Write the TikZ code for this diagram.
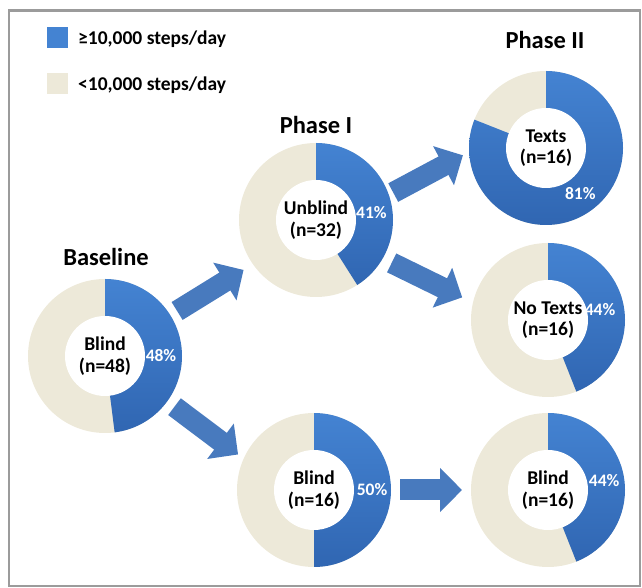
\documentclass[tikz,border=0pt]{standalone}
\usepackage{fontspec}
\setmainfont{Carlito}
\usetikzlibrary{arrows.meta}

\definecolor{stepblue}{RGB}{68,131,210}
\definecolor{stepbluedark}{RGB}{48,102,178}
\definecolor{stepbeige}{RGB}{237,233,217}
\definecolor{arrowblue}{RGB}{72,122,190}
\definecolor{framegray}{RGB}{155,155,155}

\tikzset{
  donut/.style={circle, minimum size=154pt, inner sep=0pt, outer sep=0pt,
    align=center, font=\fontsize{19.5}{21.5}\selectfont\bfseries,
    path picture={
      \fill[stepbeige] (path picture bounding box.center) circle[radius=77pt];
      \shade[top color=stepblue, bottom color=stepbluedark]
        (path picture bounding box.center) -- ++(90:77pt)
        arc[start angle=90, delta angle=-#1, radius=77pt] -- cycle;
      \fill[white] (path picture bounding box.center) circle[radius=40pt];
    }},
  pct/.style={text=white, inner sep=0pt, font=\fontsize{17.5}{19}\selectfont\bfseries},
  phase/.style={inner sep=0pt, font=\fontsize{24.5}{28}\selectfont\bfseries},
  keybox/.style={minimum size=21pt, inner sep=0pt},
  keytext/.style={anchor=base west, inner sep=0pt, font=\fontsize{19.5}{22}\selectfont\bfseries},
  blockarrow/.style={draw=arrowblue, line width=21pt, -{Triangle[length=22pt, width=43pt]}}
}

\begin{document}
\begin{tikzpicture}[x=1pt, y=1pt]

        \useasboundingbox (0,0) rectangle (642,588);
        \draw[framegray, line width=2.5pt] (9,577.5) rectangle (640,2);

        % legend
        \node[keybox, fill=stepblue]  (key-hi) at (57.5,550.5) {};
        \node[keybox, fill=stepbeige] (key-lo) at (57.5,504) {};
        \node[keytext] (key-hi-t) at (78,543.7) {≥10,000 steps/day};
        \node[keytext] (key-lo-t) at (78,497.3) {<10,000 steps/day};

        \node[phase] (base-t) at (106,331) {Baseline};
        \node[phase] (unbl-t) at (316,463) {Phase I};
        \node[phase] (txt-t)  at (545,548) {Phase II};

        \node[donut=172.8] (base)  at (105,232) {Blind\\(n=48)};
        \node[donut=147.6] (unbl)  at (316,368) {Unblind\\(n=32)};
        \node[donut=291.6] (txt)   at (546,440) {Texts\\(n=16)};
        \node[donut=158.4] (notxt) at (548,268) {No Texts\\(n=16)};
        \node[donut=180]   (blnd)  at (314,98)  {Blind\\(n=16)};
        \node[donut=158.4] (blnd2) at (548,98)  {Blind\\(n=16)};

        \path (base.center)  ++(0:56)   node[pct] (base-p)  {48\%};
        \path (unbl.center)  ++(8:56)   node[pct] (unbl-p)  {41\%};
        \path (txt.center)   ++(-53:57) node[pct] (txt-p)   {81\%};
        \path (notxt.center) ++(11:53)  node[pct] (notxt-p) {44\%};
        \path (blnd.center)  ++(0:58)   node[pct] (blnd-p)  {50\%};
        \path (blnd2.center) ++(10:57)  node[pct] (blnd2-p) {44\%};

        \begin{scope}[every edge/.style={blockarrow}]
          \path (base.32)  edge[shorten <=8pt, shorten >=11pt] (unbl.215);
          \path (base.-36) edge[shorten <=9pt, shorten >=7pt]  (blnd.156);
          \path (unbl.19)  edge[shorten <=5pt, shorten >=7pt]  (txt.183);
          \path (unbl.-30) edge[shorten <=10pt, shorten >=12pt] (notxt.167);
          \path (blnd.0)   edge[shorten <=9pt, shorten >=9pt]  (blnd2.180);
        \end{scope}

\end{tikzpicture}
\end{document}
